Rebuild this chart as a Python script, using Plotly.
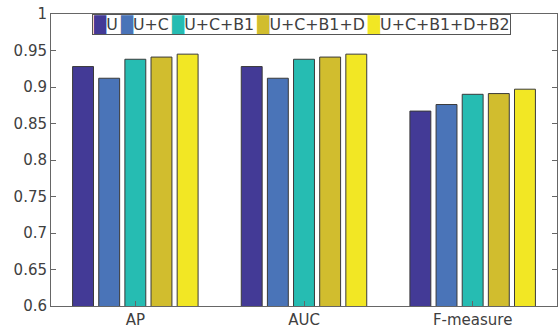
import plotly.graph_objects as go

categories = ["AP", "AUC", "F-measure"]
series_names = ["U", "U+C", "U+C+B1", "U+C+B1+D", "U+C+B1+D+B2"]
vals_U = [0.928, 0.928, 0.867]
vals_UC = [0.912, 0.912, 0.876]
vals_UCB1 = [0.938, 0.938, 0.890]
vals_UCB1D = [0.941, 0.941, 0.891]
vals_UCB1DB2 = [0.945, 0.945, 0.897]
series_values = [vals_U, vals_UC, vals_UCB1, vals_UCB1D, vals_UCB1DB2]
colors = ["#433a96", "#4a74b8", "#26bcb2", "#d1bd2e", "#f2e724"]
ytick_vals = [0.6, 0.65, 0.7, 0.75, 0.8, 0.85, 0.9, 0.95, 1.0]
ytick_text = ["0.6", "0.65", "0.7", "0.75", "0.8", "0.85", "0.9", "0.95", "1"]

W, H = 558, 329
ML, MR, MT, MB = 51, 1, 14, 23
PW = W - ML - MR
PH = H - MT - MB
FONT = "DejaVu Sans"
TXT = "#404040"
AX = "#666666"

fig = go.Figure()
for name, vals, col in zip(series_names, series_values, colors):
    fig.add_trace(go.Bar(
        x=categories, y=vals, name=name,
        marker=dict(color=col, line=dict(color="#3a3a3a", width=1)),
        showlegend=False,
    ))

def px2x(px):
    return (px - ML) / PW
def py2y(py):
    return 1 - (py - MT) / PH

# compact MATLAB-style legend as one annotation
parts = []
for name, col in zip(series_names, colors):
    parts.append('<span style="color:%s">\u2588</span>%s' % (col, name))
legend_text = "\u2009".join(parts)

fig.add_annotation(
    xref="paper", yref="paper", x=px2x(92), y=py2y(14),
    xanchor="left", yanchor="top", showarrow=False,
    text=legend_text, align="left",
    font=dict(family=FONT, size=15.8, color=TXT),
    bgcolor="white", bordercolor="#555555", borderwidth=1, borderpad=0,
)

fig.update_layout(
    width=W, height=H,
    margin=dict(l=ML, r=MR, t=MT, b=MB, pad=0),
    paper_bgcolor="white", plot_bgcolor="white",
    barmode="group", bargap=0.225, bargroupgap=0.2,
    font=dict(family=FONT, size=15, color=TXT),
    xaxis=dict(range=[-0.5, 2.5], showline=True, linecolor=AX, linewidth=1, mirror="ticks",
               ticks="inside", ticklen=5, tickcolor=AX, showgrid=False,
               tickfont=dict(family=FONT, size=15, color=TXT)),
    yaxis=dict(range=[0.6, 1.0], showline=True, linecolor=AX, linewidth=1, mirror="ticks",
               ticks="inside", ticklen=5, tickcolor=AX, showgrid=False, zeroline=False,
               tickvals=ytick_vals, ticktext=ytick_text,
               tickfont=dict(family=FONT, size=15, color=TXT)),
)
fig.write_html("out.html")
